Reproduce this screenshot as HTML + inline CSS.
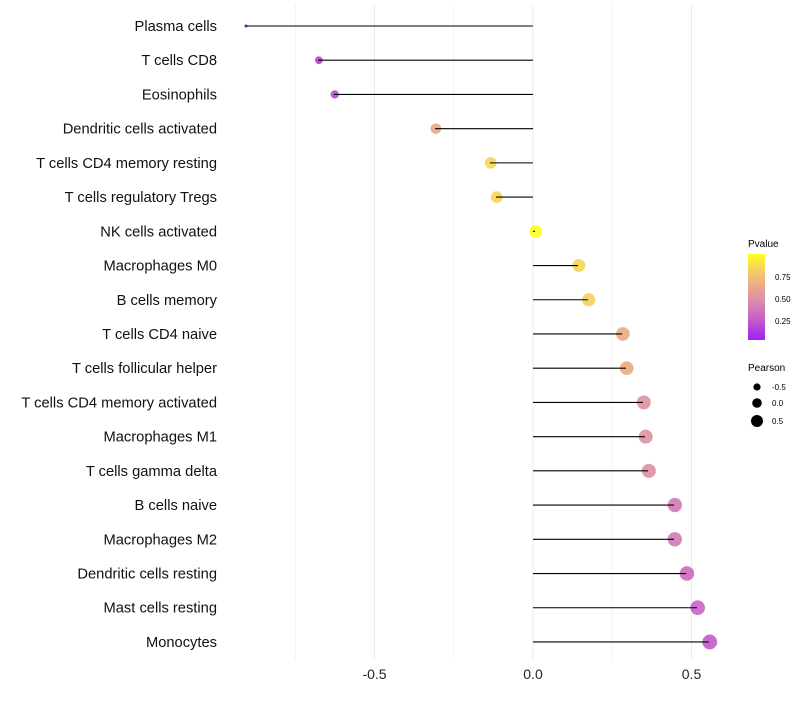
<!DOCTYPE html>
<html><head><meta charset="utf-8"><style>
body{margin:0;background:#fff;font-family:"Liberation Sans",sans-serif}
</style></head><body>
<svg id="chart" width="800" height="700" xmlns="http://www.w3.org/2000/svg" font-family="Liberation Sans, sans-serif">
<defs><linearGradient id="pg" x1="0" y1="1" x2="0" y2="0">
<stop offset="0" stop-color="#A020F0"/><stop offset="0.25" stop-color="#C660C8"/><stop offset="0.45" stop-color="#DC8CAC"/><stop offset="0.6" stop-color="#E8A48C"/><stop offset="0.8" stop-color="#F4CC66"/><stop offset="1" stop-color="#FFFF20"/></linearGradient></defs>
<g id="grid"></g><g id="marks"></g><g id="labels"></g>
<g>
<text x="748" y="247" font-size="10" fill="#000">Pvalue</text>
<rect x="748" y="254" width="17" height="86" fill="url(#pg)"/>
<text x="775" y="280" font-size="8">0.75</text><text x="775" y="302" font-size="8">0.50</text><text x="775" y="324" font-size="8">0.25</text>
</g>
<g>
<text x="748" y="371" font-size="10">Pearson</text>
<circle cx="757" cy="387" r="3.6"/><text x="772" y="390" font-size="8">-0.5</text>
<circle cx="757" cy="403" r="4.8"/><text x="772" y="406" font-size="8">0.0</text>
<circle cx="757" cy="421" r="6"/><text x="772" y="424" font-size="8">0.5</text>
</g>
</svg>
<script>
const categories=["Plasma cells","T cells CD8","Eosinophils","Dendritic cells activated","T cells CD4 memory resting","T cells regulatory  Tregs","NK cells activated","Macrophages M0","B cells memory","T cells CD4 naive","T cells follicular helper","T cells CD4 memory activated","Macrophages M1","T cells gamma delta","B cells naive","Macrophages M2","Dendritic cells resting","Mast cells resting","Monocytes"];
const pearson=[-0.908,-0.678,-0.628,-0.309,-0.136,-0.117,0.006,0.142,0.173,0.281,0.293,0.347,0.353,0.363,0.445,0.445,0.483,0.517,0.555];
const pvalues=[0.05,0.15,0.17,0.62,0.84,0.84,1.0,0.84,0.82,0.64,0.63,0.5,0.5,0.49,0.38,0.38,0.31,0.28,0.24];
const xTicks=[-0.5,0,0.5];
const xTickLabels=["-0.5","0.0","0.5"];
const ns="http://www.w3.org/2000/svg";
const x=v=>533+v*317;
const y=i=>26+i*34.22;
const stops=[[0,[160,32,240]],[0.25,[198,96,200]],[0.45,[220,140,172]],[0.6,[232,164,140]],[0.8,[244,204,102]],[1,[255,255,32]]];
function col(p){for(let k=1;k<stops.length;k++){if(p<=stops[k][0]){const a=stops[k-1],b=stops[k],t=(p-a[0])/(b[0]-a[0]);return 'rgb('+a[1].map((c,j)=>Math.round(c+(b[1][j]-c)*t)).join(',')+')';}}return 'rgb(255,255,32)';}
function mk(t,attrs,parent){const e=document.createElementNS(ns,t);for(const k in attrs)e.setAttribute(k,attrs[k]);parent.appendChild(e);return e;}
const grid=document.getElementById('grid'),marks=document.getElementById('marks'),labels=document.getElementById('labels');
const pmin=Math.min(...pearson),pmax=Math.max(...pearson);
[-0.75,-0.25,0.25].forEach(v=>{const l=mk('line',{x1:x(v),x2:x(v),y1:5,y2:660,stroke:'#f2f2f2','stroke-width':1},grid);

});
xTicks.forEach((v,i)=>{const l=mk('line',{x1:x(v),x2:x(v),y1:5,y2:660,stroke:'#ebebeb','stroke-width':1},grid);


const t=mk('text',{x:x(v),y:679,'font-size':14,'text-anchor':'middle',fill:'#222'},labels);t.textContent=xTickLabels[i];

});
categories.forEach((c,i)=>{const yy=y(i);
const t=mk('text',{x:217,y:yy+5,'font-size':14.7,'text-anchor':'end',fill:'#111'},labels);t.textContent=c;


const r=1.6+5.8*Math.sqrt((pearson[i]-pmin)/(pmax-pmin));
const cx=x(pearson[i])+0.8;
const d=mk('circle',{cx:cx,cy:yy,r:r,fill:col(pvalues[i]),'fill-opacity':0.92},marks);


const l=mk('line',{x1:x(0),x2:x(pearson[i]),y1:yy,y2:yy,stroke:'#000','stroke-width':1.1},marks);

});
</script>
</body></html>
